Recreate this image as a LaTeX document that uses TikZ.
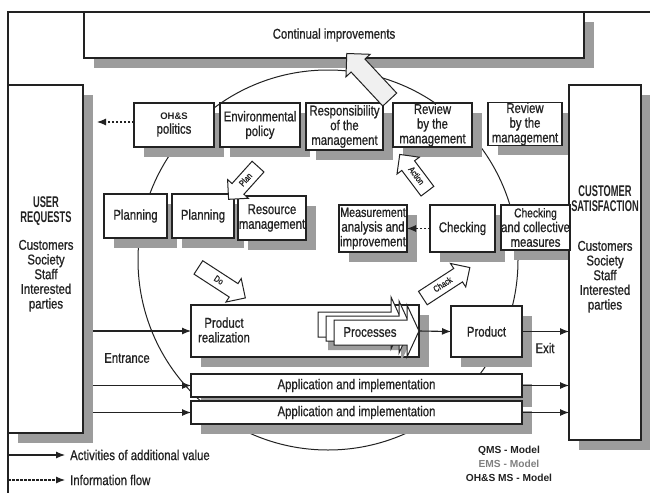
\documentclass[tikz,border=0pt]{standalone}
\usepackage{fontspec}
\setmainfont{Liberation Sans}[FakeStretch=0.8, FakeBold=0.8]
\newfontfamily\cbold{Liberation Sans}[FakeStretch=0.6]
\newfontfamily\widefont{Liberation Sans}
\usetikzlibrary{arrows.meta,shapes.arrows,calc}
\definecolor{shad}{HTML}{9C9C9C}
\definecolor{ink}{HTML}{222222}
\newcommand\nf{\fontsize{14.2}{14.7}\selectfont}
\newcommand\bigb{\cbold\bfseries\fontsize{15.5}{15}\selectfont}
\pgfdeclarelayer{bg}
\pgfdeclarelayer{shd}
\pgfsetlayers{bg,shd,main}
\tikzset{
  boxst/.style={draw=ink, line width=1.3pt, fill=white, inner sep=0pt, outer sep=0pt, align=center, text=ink, font=\nf},
  shadst/.style={fill=shad, draw=none, inner sep=0pt, outer sep=0pt},
  txt/.style={inner sep=0pt, align=center, text=ink, font=\nf},
  arr/.style={draw=ink, line width=1.1pt, -{Latex[length=9pt,width=7pt]}},
  darr/.style={arr, dash pattern=on 2.5pt off 1.5pt},
  barrow/.style={single arrow, draw=ink, line width=1pt, fill=white, text=ink,
    single arrow head extend=6pt, single arrow head indent=0pt,
    inner xsep=2.5pt, inner ysep=3.5pt, text height=6.5pt, text depth=1.5pt,
    font=\fontsize{9}{9}\selectfont},
}
% name, x1, y1, x2, y2, text
\newcommand{\mkbox}[6]{%
  \begin{pgfonlayer}{shd}
    \node[shadst, minimum width={#4-#2}, minimum height={#5-#3}] (#1s) at ({(#2+#4)/2+10},{(#3+#5)/2+10}) {};
  \end{pgfonlayer}
  \node[boxst, minimum width={#4-#2}, minimum height={#5-#3}] (#1) at ({(#2+#4)/2},{(#3+#5)/2}) {#6};%
}
\newcommand{\procarrow}[3]{%
  \draw[#3, shift={(#1,#2)}] (334,320) -- (407,320) -- (407,305) -- (419,331) -- (407,357) -- (407,345) -- (334,345) -- cycle;%
}
\begin{document}
\begin{tikzpicture}[x=1pt,y=-1pt]
\useasboundingbox (0,0) rectangle (650,493);

\begin{pgfonlayer}{bg}
  \fill[white] (0,0) rectangle (650,493);
  \draw[ink, line width=1pt] (328,260) circle[radius=190pt];
\end{pgfonlayer}

% frame
\draw[ink, line width=1.2pt] (650,12) -- (8,12) -- (8,493);

\mkbox{cont}{84}{12}{584}{58}{Continual improvements}
\mkbox{ur}{8}{85}{83}{433}{}
\mkbox{cs}{569}{85}{641}{440}{}

\mkbox{ohs}{134}{103}{214}{147}{{\widefont\bfseries\fontsize{9.5}{10}\selectfont OH\&S}\\[-1pt]politics}
\mkbox{env}{220}{103}{300}{147}{Environmental\\policy}
\mkbox{resp}{306}{103}{383}{150}{Responsibility\\of the\\management}
\mkbox{rev}{393}{103}{472}{147}{Review\\by the\\management}
\mkbox{revb}{488}{103}{562}{145}{Review\\by the\\management}

\mkbox{pla}{104}{194}{167}{238}{Planning}
\mkbox{plb}{172}{194}{234}{238}{Planning}
\mkbox{res}{238}{196}{306}{240}{Resource\\management}
\mkbox{meas}{339}{205}{407}{252}{\fontsize{13.4}{14.7}\selectfont Measurement\\analysis and\\improvement}
\mkbox{chk}{430}{205}{495}{252}{Checking}
\mkbox{chc}{504}{205}{567}{250}{\fontsize{12.8}{14.2}\selectfont Checking\\and collective\\measures}

\mkbox{pr}{191}{305}{419}{357}{}
\mkbox{prod}{451}{306}{522}{357}{Product}
\mkbox{aa}{191}{374}{522}{397}{Application and implementation}
\mkbox{ab}{191}{401}{522}{424}{Application and implementation}

% side texts
\node[txt] (urt) at (46,254) {{\bigb USER}\\{\bigb REQUESTS}\\[13pt]Customers\\Society\\Staff\\Interested\\parties};
\node[txt] (cst) at (605,249) {{\bigb CUSTOMER}\\{\bigb SATISFACTION}\\[25pt]Customers\\Society\\Staff\\Interested\\parties};
\node[txt] (prt) at (224,330) {Product\\realization};

% processes arrows
\fill[shad, shift={(-6,5)}] (334,320) -- (407,320) -- (407,305) -- (419,331) -- (407,357) -- (407,345) -- (334,345) -- cycle;
\procarrow{-16}{-8}{draw=ink, line width=1pt, fill=white}
\procarrow{-8}{-4}{draw=ink, line width=1pt, fill=white}
\procarrow{0}{0}{draw=ink, line width=1pt, fill=white}
\node[txt] (proct) at (370,332) {Processes};
\coordinate (proctip) at (419,331);

% connectors
\draw[arr] (urs.east |- pr.west) -- (pr.west);
\draw[arr] (urs.east |- aa.west) -- (aa.west);
\draw[arr] (urs.east |- ab.west) -- (ab.west);
\draw[arr] (proctip) -- (prod.west);
\draw[arr] (prod.east) -- (cs.west |- prod.east);
\draw[arr] (aa.east) -- (cs.west |- aa.east);
\draw[arr] (ab.east) -- (cs.west |- ab.east);
\coordinate (ohsend) at (97,122);
\draw[darr] (ohs.west |- ohsend) -- (ohsend);
\draw[darr] (chk.west) -- (meas.east);

\node[txt] (entr) at (127,358) {Entrance};
\node[txt] (exit) at (545,348) {Exit};

% block arrows
\node[barrow, fill=gray!12, text height=10pt, text depth=3pt, inner ysep=2.5pt, single arrow head extend=7pt, minimum height=63pt, rotate=133] (big) at (371.5,80) {};
\node[barrow, minimum height=56pt, rotate=-33] (do) at (218.5,280.5) {Do};
\node[barrow, minimum height=44pt, rotate=48, shape border rotate=180] (plan) at (246,180) {Plan};
\node[barrow, minimum height=46pt, rotate=-53, shape border rotate=180] (act) at (416,176) {Action};
\node[barrow, minimum height=56pt, rotate=33] (chack) at (443,285) {Chack};

% legend
\coordinate (lga) at (8,455);
\coordinate (lgb) at (8,480);
\node[txt, anchor=west, inner xsep=5pt] (lta) at (65,455) {Activities of additional value};
\node[txt, anchor=west, inner xsep=5pt] (ltb) at (65,480) {Information flow};
\draw[arr] (lga) -- (lta.west);
\draw[darr] (lgb) -- (ltb.west);

\node[txt, font=\widefont\bfseries\fontsize{10.2}{12}\selectfont] (qms) at (509,451) {QMS - Model};
\node[txt, text=gray, font=\widefont\bfseries\fontsize{10.2}{12}\selectfont] (ems) at (509,464) {EMS - Model};
\node[txt, font=\widefont\bfseries\fontsize{10.2}{12}\selectfont] (ohsms) at (509,478) {OH\&S MS - Model};
\end{tikzpicture}
\end{document}
